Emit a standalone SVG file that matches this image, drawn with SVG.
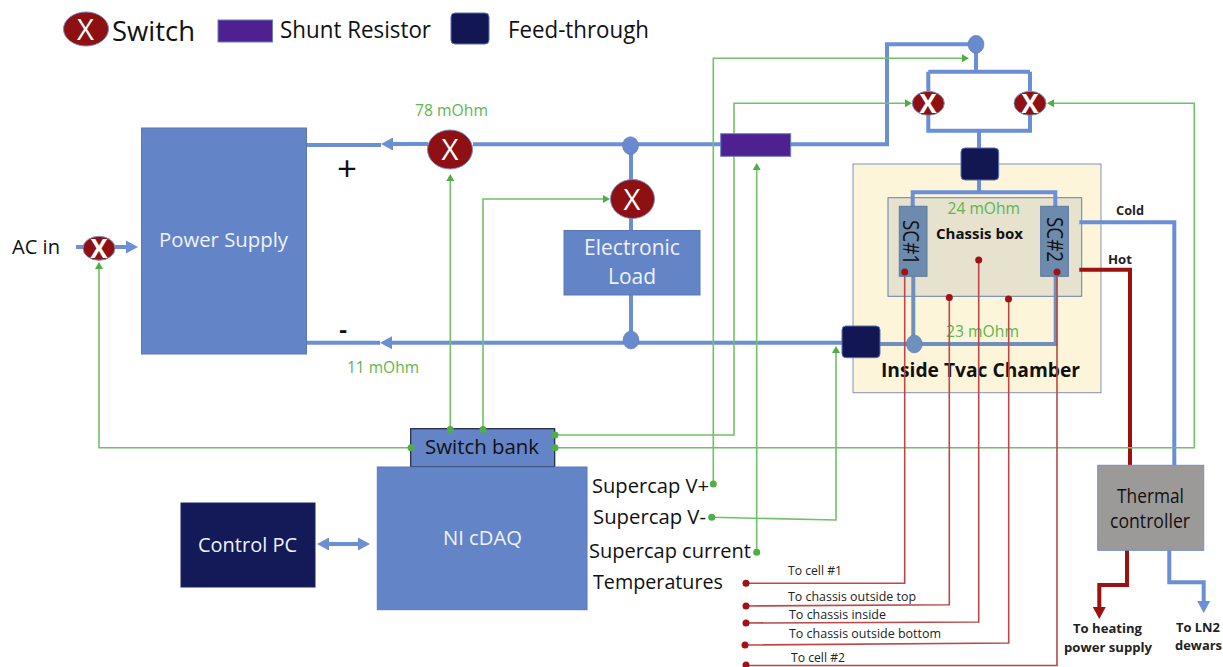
<svg xmlns="http://www.w3.org/2000/svg" width="1223" height="667" viewBox="0 0 1223 667">
<style>
text{font-family:"Open Sans","Noto Sans","Liberation Sans",sans-serif;fill:#111}
.w{fill:#eef2fc}
.g{fill:#5cb551;font-size:16px}
.b{font-weight:700}
.sm{font-size:12.5px;fill:#222}
.box{fill:#6484c8;stroke:#5a78b4;stroke-width:1}
.sw{fill:#8e1013;stroke:#7d8fb8;stroke-width:1}
.x{fill:#fff;text-anchor:middle}
.ft{fill:#121652;stroke:#5a70b0;stroke-width:1}
.jn{fill:#6a8ad0;stroke:#5a78b4;stroke-width:.5}
.bl{fill:none;stroke:#6b8fd6;stroke-width:4}
.bd{fill:none;stroke:#6f8fbc;stroke-width:4}
.gn{fill:none;stroke:#72c06a;stroke-width:1.6}
.rd{fill:none;stroke:#b9494a;stroke-width:1.6}
.hr{fill:none;stroke:#9c1012;stroke-width:4}
.gd{fill:#4fae46}
.rdot{fill:#a01218}
</style>
<defs>
<marker id="ag" markerUnits="userSpaceOnUse" markerWidth="8" markerHeight="10" refX="0" refY="5" orient="auto"><path d="M0 1 L7 5 L0 9Z" fill="#4fae46"/></marker>
<marker id="ab" markerUnits="userSpaceOnUse" markerWidth="12" markerHeight="14" refX="0" refY="7" orient="auto-start-reverse"><path d="M0 0.5 L12 7 L0 13.5Z" fill="#6b8fd6"/></marker>
<marker id="ar" markerUnits="userSpaceOnUse" markerWidth="12" markerHeight="14" refX="0" refY="7" orient="auto"><path d="M0 0.5 L12 7 L0 13.5Z" fill="#9c1012"/></marker>
</defs>
<rect width="1223" height="667" fill="#fff"/>

<g id="legend">
<ellipse class="sw" cx="86" cy="29" rx="22.5" ry="17"/>
<text class="x" x="85.5" y="40" font-size="29" textLength="17" lengthAdjust="spacingAndGlyphs">X</text>
<text x="112" y="40.5" font-size="27" textLength="83" lengthAdjust="spacingAndGlyphs">Switch</text>
<rect x="218" y="20" width="54.500" height="22" fill="#4f2090" stroke="#6a7fc0" stroke-width="1"/>
<text x="280" y="37.500" font-size="23" textLength="151" lengthAdjust="spacingAndGlyphs">Shunt Resistor</text>
<rect class="ft" x="451" y="13" width="38" height="31" rx="4"/>
<text x="508" y="37.500" font-size="23" textLength="141" lengthAdjust="spacingAndGlyphs">Feed-through</text>
</g>

<g id="chamber">
<rect x="853" y="164" width="248" height="228.700" fill="#fdf5d9" stroke="#7f93b5" stroke-width="1"/>
<rect x="888" y="197.700" width="193.700" height="98.600" fill="#e6e2ce" stroke="#6480b0" stroke-width="1"/>
<text class="b" x="881" y="376.700" font-size="20" textLength="199" lengthAdjust="spacingAndGlyphs">Inside Tvac Chamber</text>
<text class="b" x="936" y="239" font-size="14" textLength="87" lengthAdjust="spacingAndGlyphs">Chassis box</text>
<text class="g" x="947.500" y="214" textLength="72.500" lengthAdjust="spacingAndGlyphs">24 mOhm</text>
<text class="g" x="946" y="336.500" textLength="73" lengthAdjust="spacingAndGlyphs">23 mOhm</text>
</g>

<g id="connectors">
<path class="bl" d="M306 145H381"/>
<path class="bl" d="M428 144H393" marker-end="url(#ab)"/>
<path class="bl" d="M473 144.300H721M790 144.300H887V44.300H976V71.700M928.300 71.700H1030M928.300 71.700V92M1030 71.700V92M928.300 115V130.700H1030V115M979 130.700V148"/>
<path class="bl" d="M631 146V180M631 218V231M631 295V340"/>
<path class="bl" d="M306 342.700H380"/>
<path class="bl" d="M842 342.700H392" marker-end="url(#ab)"/>
<path class="bl" d="M76 247H83M115 247H126" marker-end="url(#ab)"/>
<path class="bl" d="M329 544H358" marker-end="url(#ab)" marker-start="url(#ab)"/>
<path class="bl" d="M979 180V192.300M912.700 207V192.300H1055.300V207"/>
<path class="bd" d="M880 344H1055.700V276M913.300 276V344"/>
<path class="bl" d="M1079.300 222.300H1174.300V465"/>
<path class="hr" d="M1079.300 269.700H1130V465"/>
<path class="hr" d="M1127 550V585H1099.300V607" marker-end="url(#ar)"/>
<path class="bl" d="M1169.300 550V582.300H1203.700V601" marker-end="url(#ab)"/>
<path class="gn" d="M450.300 429.500V181" marker-end="url(#ag)"/>
<path class="gn" d="M483 429.500V199H603" marker-end="url(#ag)"/>
<path class="gn" d="M411 447.700H99V269" marker-end="url(#ag)"/>
<path class="gn" d="M555 435H734V103.300H905" marker-end="url(#ag)"/>
<path class="gn" d="M555 447.700H1194.300V103.300H1054" marker-end="url(#ag)"/>
<path class="gn" d="M713.300 484V58.300H962" marker-end="url(#ag)"/>
<path class="gn" d="M711.700 517.300L836 520V353" marker-end="url(#ag)"/>
<path class="gn" d="M756.700 552.300V170" marker-end="url(#ag)"/>
<path class="rd" d="M746 583.300H904.700V272"/>
<path class="rd" d="M746 606L949.300 604.700V297.500"/>
<path class="rd" d="M746 623L978.700 622V260"/>
<path class="rd" d="M745 645L1008.700 643V299"/>
<path class="rd" d="M746 665.500H1057V272"/>
</g>

<g id="signal-dots" class="gd"><circle cx="713.300" cy="484" r="3.500"/><circle cx="711.700" cy="517.300" r="3.500"/><circle cx="756.700" cy="552.300" r="3.500"/></g>

<g id="power-supply"><rect class="box" x="141.500" y="128" width="165" height="226"/><text class="w" x="159" y="247" font-size="20" textLength="129" lengthAdjust="spacingAndGlyphs">Power Supply</text></g>
<g id="labels-left">
<text x="12" y="253.500" font-size="20" textLength="48" lengthAdjust="spacingAndGlyphs">AC in</text>
<text x="347" y="181" font-size="35" text-anchor="middle">+</text>
<text class="b" x="343" y="338" font-size="24" text-anchor="middle">-</text>
<text class="g" x="415" y="116" textLength="73" lengthAdjust="spacingAndGlyphs">78 mOhm</text>
<text class="g" x="347" y="373" textLength="72" lengthAdjust="spacingAndGlyphs">11 mOhm</text>
</g>
<g id="switch-ac"><ellipse class="sw" cx="99" cy="248.300" rx="16" ry="12"/><text class="x b" x="99" y="258" font-size="27" textLength="17" lengthAdjust="spacingAndGlyphs">X</text></g>
<g id="switch-plus"><ellipse class="sw" cx="450" cy="149.500" rx="22.500" ry="19.500"/><text class="x" x="450" y="160" font-size="29" textLength="17" lengthAdjust="spacingAndGlyphs">X</text></g>
<g id="junction-top"><ellipse class="jn" cx="630.500" cy="145.700" rx="8" ry="9"/></g>
<g id="switch-load"><ellipse class="sw" cx="632.500" cy="199" rx="22" ry="19.500"/><text class="x" x="632" y="209.500" font-size="29" textLength="17" lengthAdjust="spacingAndGlyphs">X</text></g>
<g id="electronic-load"><rect class="box" x="564" y="230.500" width="136" height="64.500"/><text class="w" x="632" y="255" font-size="21" text-anchor="middle">Electronic</text><text class="w" x="632" y="283.500" font-size="21" text-anchor="middle">Load</text></g>
<g id="junction-bottom"><ellipse class="jn" cx="631" cy="340" rx="8" ry="9"/></g>
<g id="shunt"><rect x="720.700" y="133.700" width="70" height="22.600" fill="#4f2090" stroke="#6a7fc0" stroke-width="1"/></g>
<g id="junction-upper"><ellipse class="jn" cx="976" cy="44.300" rx="8" ry="9"/></g>
<g id="switch-a"><ellipse class="sw" cx="928.300" cy="103.300" rx="16" ry="12"/><text class="x b" x="928" y="113" font-size="27" textLength="17" lengthAdjust="spacingAndGlyphs">X</text></g>
<g id="switch-b"><ellipse class="sw" cx="1030" cy="103.300" rx="16" ry="12"/><text class="x b" x="1030" y="113" font-size="27" textLength="17" lengthAdjust="spacingAndGlyphs">X</text></g>
<g id="feedthrough-top"><rect class="ft" x="961" y="148" width="37.700" height="32" rx="4"/></g>
<g id="feedthrough-bottom"><rect class="ft" x="842" y="326" width="38" height="31.700" rx="4"/></g>
<g id="junction-chamber"><ellipse cx="914.300" cy="344" rx="8" ry="9" fill="#6f8fbc" stroke="#5a78a4" stroke-width=".5"/></g>
<g id="sc1"><rect x="899.300" y="206.300" width="27.700" height="70" fill="#6d8bac" stroke="#5a78a4" stroke-width="1"/><text transform="translate(902.500 220) rotate(90)" font-size="22" fill="#1a1a22" textLength="45" lengthAdjust="spacingAndGlyphs">SC#1</text></g>
<g id="sc2"><rect x="1040.700" y="206.300" width="27.700" height="70" fill="#6d8bac" stroke="#5a78a4" stroke-width="1"/><text transform="translate(1046.500 217) rotate(90)" font-size="22" fill="#1a1a22" textLength="45" lengthAdjust="spacingAndGlyphs">SC#2</text></g>
<g id="temp-dots" class="rdot"><circle cx="904.700" cy="272" r="3.500"/><circle cx="1057" cy="272" r="3.500"/><circle cx="978.700" cy="260" r="3.500"/><circle cx="949.300" cy="297.500" r="3.500"/><circle cx="1008.500" cy="299" r="3.500"/><circle cx="746" cy="583.300" r="3.500"/><circle cx="746" cy="606" r="3.500"/><circle cx="746" cy="623" r="3.500"/><circle cx="745" cy="645" r="3.500"/><circle cx="746" cy="665" r="3.500"/></g>
<g id="thermal-labels">
<text class="b sm" x="1116" y="215" textLength="28" lengthAdjust="spacingAndGlyphs">Cold</text>
<text class="b sm" x="1108" y="264" textLength="24" lengthAdjust="spacingAndGlyphs">Hot</text>
<text class="b sm" x="1073" y="633" textLength="69" lengthAdjust="spacingAndGlyphs">To heating</text>
<text class="b sm" x="1064" y="651.500" textLength="88" lengthAdjust="spacingAndGlyphs">power supply</text>
<text class="b sm" x="1176" y="631.500" textLength="44" lengthAdjust="spacingAndGlyphs">To LN2</text>
<text class="b sm" x="1175" y="650" textLength="47" lengthAdjust="spacingAndGlyphs">dewars</text>
</g>
<g id="temp-labels">
<text class="sm" x="788" y="575" textLength="54" lengthAdjust="spacingAndGlyphs">To cell #1</text>
<text class="sm" x="788" y="600.500" textLength="128" lengthAdjust="spacingAndGlyphs">To chassis outside top</text>
<text class="sm" x="789" y="619" textLength="97" lengthAdjust="spacingAndGlyphs">To chassis inside</text>
<text class="sm" x="789" y="638" textLength="152" lengthAdjust="spacingAndGlyphs">To chassis outside bottom</text>
<text class="sm" x="791" y="661.500" textLength="54" lengthAdjust="spacingAndGlyphs">To cell #2</text>
</g>
<g id="thermal-controller"><rect x="1097.700" y="465.300" width="106" height="85" fill="#9c9a98" stroke="#6f8fc8" stroke-width="1"/><text x="1117" y="503" font-size="20" fill="#222" textLength="67" lengthAdjust="spacingAndGlyphs">Thermal</text><text x="1110" y="527.500" font-size="20" textLength="80" lengthAdjust="spacingAndGlyphs">controller</text></g>
<g id="switch-bank"><rect x="410.700" y="428.700" width="144" height="38" fill="#6484c8" stroke="#1c2340" stroke-width="1.200"/><text x="425" y="454" font-size="20" textLength="114" lengthAdjust="spacingAndGlyphs">Switch bank</text></g>
<g id="signal-dots-bank" class="gd"><circle cx="450.300" cy="429.500" r="3.500"/><circle cx="483" cy="429.500" r="3.500"/><circle cx="411" cy="447.700" r="3.500"/><circle cx="555" cy="435" r="3.500"/><circle cx="555" cy="447.700" r="3.500"/></g>
<g id="ni-cdaq"><rect class="box" x="377.300" y="467" width="209.700" height="142.700"/><text class="w" x="443" y="545" font-size="20" textLength="79" lengthAdjust="spacingAndGlyphs">NI cDAQ</text></g>
<g id="control-pc"><rect x="181" y="503" width="134" height="84" fill="#131a57" stroke="#1c2466" stroke-width="1"/><text class="w" x="198" y="552" font-size="20" textLength="99" lengthAdjust="spacingAndGlyphs">Control PC</text></g>
<g id="daq-labels">
<text x="592" y="492.500" font-size="20" textLength="117" lengthAdjust="spacingAndGlyphs">Supercap V+</text>
<text x="593" y="524" font-size="20" textLength="113" lengthAdjust="spacingAndGlyphs">Supercap V-</text>
<text x="589" y="558" font-size="20" textLength="162" lengthAdjust="spacingAndGlyphs">Supercap current</text>
<text x="593" y="589" font-size="20" textLength="130" lengthAdjust="spacingAndGlyphs">Temperatures</text>
</g>
</svg>
